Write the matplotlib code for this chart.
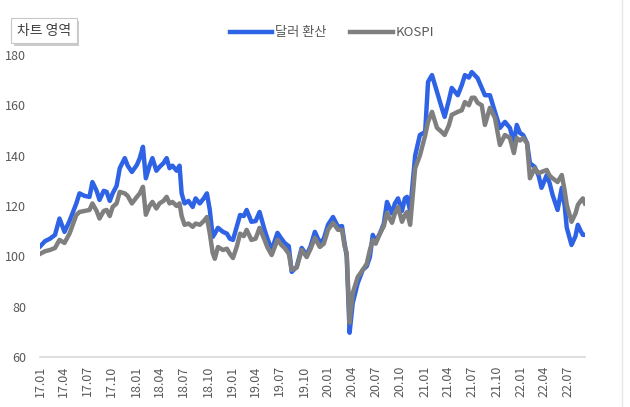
import pandas as pd
import matplotlib.pyplot as plt
from matplotlib.lines import Line2D
import matplotlib.patheffects as pe

plt.rcParams['font.family'] = ['Noto Sans CJK KR', 'DejaVu Sans']

dates = [
    "2017-01-02", "2017-01-20", "2017-02-08", "2017-02-27", "2017-03-16", "2017-04-04",
    "2017-04-23", "2017-05-19", "2017-05-31", "2017-06-19", "2017-07-08", "2017-07-19",
    "2017-08-04", "2017-08-15", "2017-08-31", "2017-09-11", "2017-09-23", "2017-10-04",
    "2017-10-19", "2017-10-31", "2017-11-19", "2017-11-30", "2017-12-16", "2018-01-04",
    "2018-01-15", "2018-01-27", "2018-02-07", "2018-02-21", "2018-03-04", "2018-03-19",
    "2018-03-31", "2018-04-15", "2018-04-27", "2018-05-08", "2018-05-19", "2018-06-04",
    "2018-06-15", "2018-06-23", "2018-07-04", "2018-07-19", "2018-08-04", "2018-08-15",
    "2018-08-31", "2018-09-15", "2018-09-27", "2018-10-08", "2018-10-19", "2018-10-27",
    "2018-11-08", "2018-11-27", "2018-12-12", "2018-12-23", "2019-01-04", "2019-01-19",
    "2019-01-31", "2019-02-14", "2019-02-25", "2019-03-15", "2019-03-31", "2019-04-15",
    "2019-05-04", "2019-05-15", "2019-05-31", "2019-06-22", "2019-07-07", "2019-07-19",
    "2019-08-04", "2019-08-15", "2019-09-03", "2019-09-22", "2019-10-11", "2019-10-26",
    "2019-11-11", "2019-11-30", "2019-12-15", "2019-12-31", "2020-01-19", "2020-02-07",
    "2020-02-22", "2020-03-03", "2020-03-11", "2020-03-22", "2020-04-03", "2020-04-22",
    "2020-05-11", "2020-05-26", "2020-06-07", "2020-06-18", "2020-06-29", "2020-07-15",
    "2020-07-30", "2020-08-11", "2020-08-30", "2020-09-10", "2020-09-22", "2020-10-07",
    "2020-10-18", "2020-10-26", "2020-11-07", "2020-11-26", "2020-12-14", "2021-01-03",
    "2021-01-14", "2021-01-29", "2021-02-17", "2021-03-07", "2021-03-18", "2021-04-03",
    "2021-04-14", "2021-05-07", "2021-05-22", "2021-06-03", "2021-06-18", "2021-06-29",
    "2021-07-10", "2021-07-21", "2021-08-06", "2021-08-18", "2021-09-06", "2021-09-25",
    "2021-10-14", "2021-11-02", "2021-11-21", "2021-12-06", "2021-12-17", "2021-12-29",
    "2022-01-10", "2022-01-25", "2022-02-05", "2022-02-23", "2022-03-10", "2022-03-21",
    "2022-04-10", "2022-04-21", "2022-05-02", "2022-05-21", "2022-06-06", "2022-06-17",
    "2022-06-25", "2022-07-13", "2022-07-28", "2022-08-06", "2022-08-17", "2022-08-25",
    "2022-09-02",
]

usd = [
    104, 106, 107, 108.5, 115, 109.7,
    114, 121, 125, 124, 123.6, 129.5,
    126, 122.4, 126, 125.6, 122, 125,
    128, 135, 139, 136, 133.5, 136.3,
    139, 143.5, 131, 136, 139, 134,
    135.5, 137, 139, 135, 136, 134,
    136, 125, 121, 122, 119.6, 123,
    121, 123, 125, 118.4, 107.7, 109,
    111.3, 109.7, 109, 107, 106.5, 112,
    116.4, 116, 118.4, 113.7, 114, 117.6,
    110.5, 107, 102.5, 109.3, 107, 105.3,
    104, 93.8, 95.8, 103.3, 100.5, 104,
    109.7, 105.3, 107, 112.5, 115.6, 111.7,
    112, 105, 100, 69.6, 81.5, 89.4,
    94.6, 96, 99.7, 108.5, 106, 109,
    113, 121.6, 117, 121, 123, 118,
    123, 123.6, 118, 140, 148.2, 149.4,
    169.3, 172, 165.3, 159, 155.4, 162,
    166.9, 164, 168, 172, 171, 173.2,
    172, 170.8, 166.9, 164, 164, 157.4,
    151, 153.4, 151, 145, 152.2, 149,
    148.2, 145, 137, 135.5, 132, 127.2,
    132.3, 129, 124.4, 118.4, 127.2, 120,
    111.3, 104.5, 108, 112.5, 110, 108.5,
    108.5,
]

kospi = [
    101, 102, 102.5, 103.3, 106.5, 105.3,
    109, 116.4, 117.6, 118, 118.4, 121,
    118, 115, 118, 118.4, 116, 119.6,
    121, 125.6, 125, 124, 121, 123.6,
    125, 127.6, 116.5, 120, 121.6, 119,
    121, 122, 123.6, 121, 121.6, 120,
    121, 116, 112.5, 113, 111.7, 113,
    112.5, 114, 115.6, 109, 101.3, 99,
    103.7, 102.5, 103, 101, 99.3, 104,
    109, 108, 110.5, 106.5, 107, 111.3,
    106.5, 103.5, 100.5, 106.5, 104.5, 103.3,
    101, 94.6, 95.5, 102.5, 99.7, 103,
    107.3, 103.7, 105, 110.5, 113.3, 110.5,
    110.5, 104, 101.3, 73.6, 85.4, 91.8,
    94.6, 97, 102.5, 106.5, 105, 109,
    112, 117.2, 113.3, 117, 119.6, 113.7,
    116.4, 117.6, 112.5, 135, 140, 148,
    153.4, 157.4, 151, 149.4, 148.2, 152,
    156.2, 157.4, 158, 161.3, 160, 163,
    163, 161, 160, 152.2, 159, 155,
    144.2, 148.2, 147, 141, 147, 146,
    147, 145, 131, 135, 133, 133.5,
    134.3, 132, 131, 129.5, 132.3, 126,
    120.4, 113.7, 117, 120.4, 122, 123,
    121,
]

x = pd.to_datetime(dates)

fig = plt.figure(figsize=(6.3, 4.07), dpi=100)
ax = fig.add_axes([0.0635, 0.123, 0.865, 0.742])

ax.plot(x, usd, color='#2f63e6', lw=3.2, solid_joinstyle='round', label='달러 환산')
ax.plot(x, kospi, color='#7f7f7f', lw=3.2, solid_joinstyle='round', label='KOSPI')

ax.set_ylim(60, 180)
ax.set_yticks([60, 80, 100, 120, 140, 160, 180])
ax.set_xlim(pd.Timestamp("2017-01-01"), pd.Timestamp("2022-09-02"))
ticks = pd.date_range("2017-01-01", "2022-07-01", freq="3MS")
ax.set_xticks(ticks)
ax.set_xticklabels([t.strftime('%y.%m') for t in ticks], rotation=90)

for s in ['top', 'right', 'left']:
    ax.spines[s].set_visible(False)
ax.spines['bottom'].set_color('#d9d9d9')
ax.spines['bottom'].set_linewidth(1.2)
ax.tick_params(length=0, labelsize=9, colors='#595959', pad=6)
ax.tick_params(axis='y', pad=10)

fig.legend(loc='upper center', bbox_to_anchor=(0.527, 0.965), ncol=2, frameon=False,
           fontsize=9.5, handlelength=3.2, columnspacing=1.8, handletextpad=0.2,
           labelcolor='#595959')

# the "차트 영역" tooltip box with a small drop shadow
t = fig.text(0.027, 0.925, '차트 영역', fontsize=10, color='#404040', va='center',
             bbox=dict(boxstyle='square,pad=0.4', fc='white', ec='#c8c8c8', lw=0.8))
t.get_bbox_patch().set_path_effects([pe.SimplePatchShadow(offset=(2, -2), shadow_rgbFace='#999999', alpha=0.5),
                                     pe.Normal()])

fig.add_artist(Line2D([0.988, 0.988], [0.0, 1.0], color='#e6e6e6', lw=1))

fig.savefig('out.png', dpi=100)
